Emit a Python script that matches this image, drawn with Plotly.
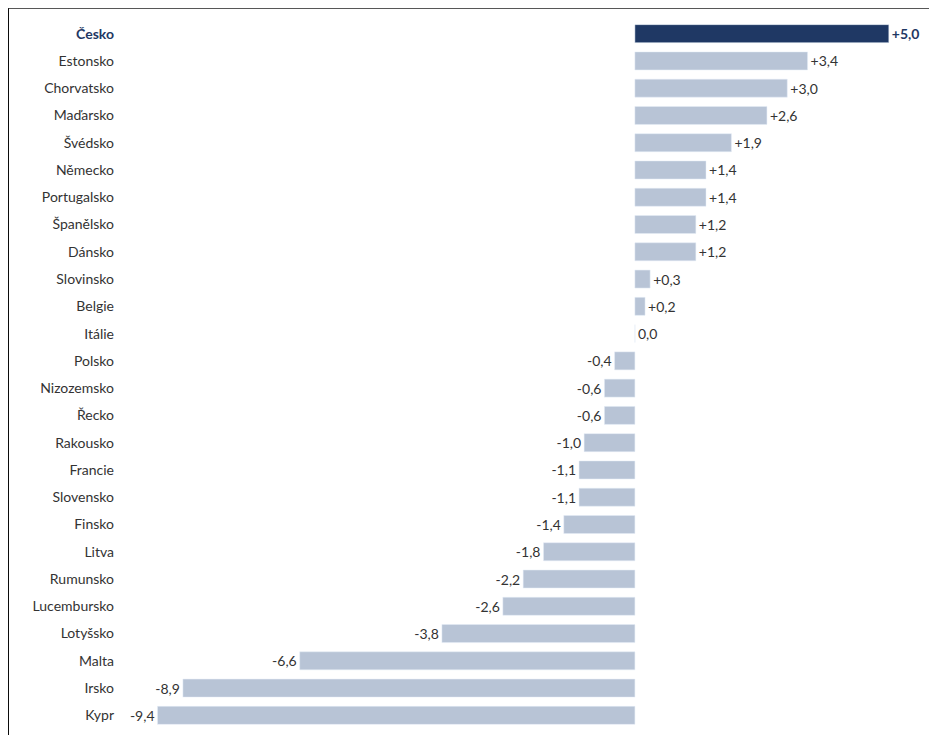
import plotly.graph_objects as go

countries = ["Česko", "Estonsko", "Chorvatsko", "Maďarsko", "Švédsko", "Německo", "Portugalsko",
             "Španělsko", "Dánsko", "Slovinsko", "Belgie", "Itálie", "Polsko", "Nizozemsko", "Řecko",
             "Rakousko", "Francie", "Slovensko", "Finsko", "Litva", "Rumunsko", "Lucembursko",
             "Lotyšsko", "Malta", "Irsko", "Kypr"]
values = [5.0, 3.4, 3.0, 2.6, 1.9, 1.4, 1.4, 1.2, 1.2, 0.3, 0.2, 0.0, -0.4, -0.6, -0.6,
          -1.0, -1.1, -1.1, -1.4, -1.8, -2.2, -2.6, -3.8, -6.6, -8.9, -9.4]

def fmt(v):
    s = f"{abs(v):.1f}".replace(".", ",")
    if v > 0:
        return "+" + s
    if v < 0:
        return "-" + s
    return s

navy = "#1f3864"
light = "#b8c4d6"
colors = [navy if c == "Česko" else light for c in countries]
texts = [f"<b>{fmt(v)}</b>" if c == "Česko" else fmt(v) for c, v in zip(countries, values)]
ticks = [f"<b><span style='color:{navy}'>{c}</span></b>" if c == "Česko" else c for c in countries]

fig = go.Figure(go.Bar(
    x=values, y=countries, orientation="h", marker_color=colors, width=0.66,
    text=texts, textposition="outside", cliponaxis=False,
    textfont=dict(color=["#1f3864" if c == "Česko" else "#333333" for c in countries], size=14),
))
fig.update_layout(
    width=937, height=735, margin=dict(l=115, r=12, t=12, b=14),
    plot_bgcolor="white", paper_bgcolor="white", showlegend=False,
    font=dict(family="Lato", size=14, color="#333333"),
    xaxis=dict(range=[-10.08, 5.87], visible=False),
    yaxis=dict(autorange=False, range=[25.5, -0.5], tickmode="array",
               tickvals=countries, ticktext=ticks, ticks="", showgrid=False, ticklabelstandoff=8),
    shapes=[dict(type="rect", xref="paper", yref="paper", x0=-0.1414, x1=1.0142, y0=-0.0191, y1=1.0167,
                 line=dict(color="black", width=1))],
)
fig.write_html("out.html")
